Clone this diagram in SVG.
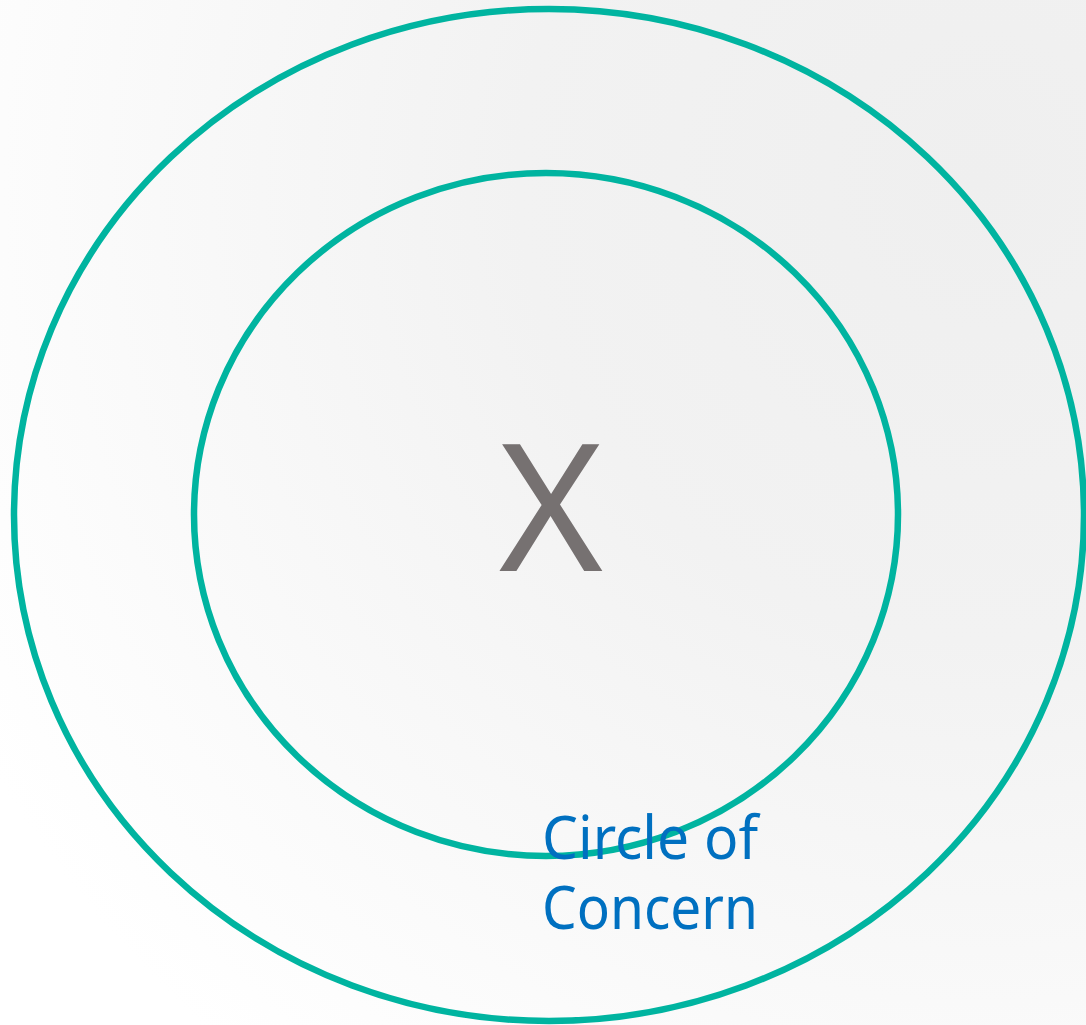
<svg xmlns="http://www.w3.org/2000/svg" width="1086" height="1025" viewBox="0 0 1086 1025">
  <defs>
    <radialGradient id="bg" gradientUnits="userSpaceOnUse" cx="980" cy="180" r="1150">
      <stop offset="0" stop-color="#efefef"/>
      <stop offset="0.4" stop-color="#f2f2f2"/>
      <stop offset="0.85" stop-color="#fcfcfc"/>
      <stop offset="1" stop-color="#ffffff"/>
    </radialGradient>
  </defs>
  <style>
    .ring { fill: none; stroke: #00b4a0; stroke-width: 6.5; }
    .lbl { font-family: "Noto Sans", "Open Sans", "Liberation Sans", sans-serif; }
  </style>
  <rect x="0" y="0" width="1086" height="1025" fill="url(#bg)"/>
  <g id="outer-circle">
    <ellipse class="ring" cx="549" cy="515" rx="535" ry="506"/>
  </g>
  <g id="inner-circle">
    <ellipse class="ring" cx="546" cy="514.5" rx="352" ry="341.5"/>
    <text class="lbl" x="551" y="571" font-size="178" fill="#767171" text-anchor="middle">X</text>
  </g>
  <g id="concern-label">
    <text class="lbl" font-size="60" fill="#0070c0">
      <tspan x="542" y="859" textLength="216" lengthAdjust="spacingAndGlyphs">Circle of</tspan>
      <tspan x="542" y="929" textLength="216" lengthAdjust="spacingAndGlyphs">Concern</tspan>
    </text>
  </g>
  <g id="connectors"/>
</svg>
